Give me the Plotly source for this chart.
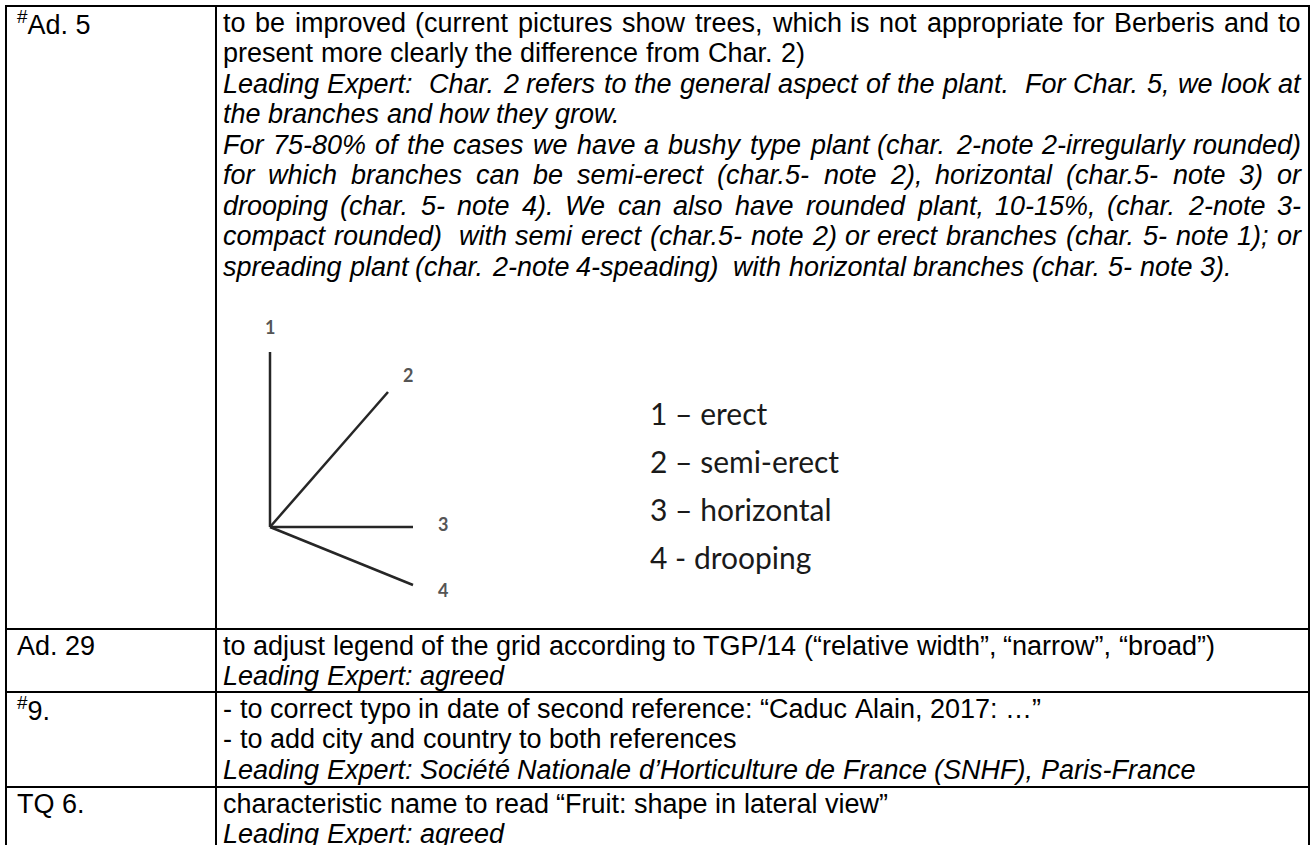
import plotly.graph_objects as go

W, H = 1314, 845

# ---------------- content ----------------
row_labels = ["<sup>#</sup>Ad. 5", "Ad. 29", "<sup>#</sup>9.", "TQ 6."]

ad5_lines = [
    "to be improved (current pictures show trees, which is not appropriate for Berberis and to",
    "present more clearly the difference from Char. 2)",
    "Leading Expert:  Char. 2 refers to the general aspect of the plant.  For Char. 5, we look at",
    "the branches and how they grow.",
    "For 75-80% of the cases we have a bushy type plant (char. 2-note 2-irregularly rounded)",
    "for which branches can be semi-erect (char.5- note 2), horizontal (char.5- note 3) or",
    "drooping (char. 5- note 4). We can also have rounded plant, 10-15%, (char. 2-note 3-",
    "compact rounded)  with semi erect (char.5- note 2) or erect branches (char. 5- note 1); or",
    "spreading plant (char. 2-note 4-speading)  with horizontal branches (char. 5- note 3).",
]
ad5_italic = [False, False, True, True, True, True, True, True, True]
ad5_justify = [True, False, True, False, True, True, True, True, False]

ad29_lines = [
    "to adjust legend of the grid according to TGP/14 (\u201crelative width\u201d, \u201cnarrow\u201d, \u201cbroad\u201d)",
    "Leading Expert: agreed",
]
ad29_italic = [False, True]

ref9_lines = [
    "- to correct typo in date of second reference: \u201cCaduc Alain, 2017: \u2026\u201d",
    "- to add city and country to both references",
    "Leading Expert: Soci\u00e9t\u00e9 Nationale d\u2019Horticulture de France (SNHF), Paris-France",
]
ref9_italic = [False, False, True]

tq6_lines = [
    "characteristic name to read \u201cFruit: shape in lateral view\u201d",
    "Leading Expert: agreed",
]
tq6_italic = [False, True]

branch_labels = ["1", "2", "3", "4"]
legend_items = ["1 \u2013 erect", "2 \u2013 semi-erect", "3 \u2013 horizontal", "4 - drooping"]

# ---------------- layout ----------------
X_LEFT, X_DIV, X_RIGHT = 6, 216, 1309
ROW_TOPS = [6, 629, 692, 787]
COL1_X = 17
TXT_L, TXT_R = 223, 1301
FS = 27
PITCH = 30.5
FIRST = 16.5
FONT = "Liberation Sans, Arial, sans-serif"
FIG_FONT = "Lato, Open Sans, sans-serif"

# Arial advance widths (1/1000 em), used to lay out justified lines word by word
ADV = {' ': 278, '.': 278, ',': 278, ':': 278, ';': 278, '(': 333, ')': 333,
       '-': 333, '%': 889, '/': 278, '\u201c': 333, '\u201d': 333, '\u2019': 222,
       '\u2026': 1000, '\u00e9': 556, '#': 556}
ADV.update({c: 556 for c in "0123456789"})
ADV.update(dict(zip("ABCDEFGHIJKLMNOPQRSTUVWXYZ",
                    [667, 667, 722, 722, 667, 611, 778, 722, 278, 500, 667, 556, 833,
                     722, 778, 667, 778, 722, 667, 611, 722, 667, 944, 667, 667, 611])))
ADV.update(dict(zip("abcdefghijklmnopqrstuvwxyz",
                    [556, 556, 500, 556, 556, 278, 556, 556, 222, 222, 500, 222, 833,
                     556, 556, 556, 556, 333, 500, 278, 556, 500, 722, 500, 500, 500])))


def width(s):
    return sum(ADV.get(c, 556) for c in s) * FS / 1000


def place_words(line, justify):
    tokens = line.split(" ")
    n_sp = len(tokens) - 1
    extra = 0
    if justify and n_sp:
        extra = (TXT_R - TXT_L - width(line)) / n_sp
    x = TXT_L
    out = []
    for t in tokens:
        if t:
            out.append((x, t))
        x += width(t) + width(" ") + extra
    return out


fig = go.Figure()

# table rules
tx, ty = [], []
for x in (X_LEFT, X_DIV, X_RIGHT):
    tx += [x, x, None]
    ty += [ROW_TOPS[0] - 1, H + 10, None]
for y in ROW_TOPS:
    tx += [X_LEFT - 1, X_RIGHT + 1, None]
    ty += [y, y, None]
fig.add_trace(go.Scatter(x=tx, y=ty, mode="lines", line=dict(color="black", width=2),
                         hoverinfo="skip", showlegend=False))

ann = []


def add_text(x, y, text, italic=False, size=FS, family=FONT, color="black",
             xanchor="left", weight="normal"):
    ann.append(dict(x=x, y=y, text=text, showarrow=False, xanchor=xanchor, yanchor="middle",
                    borderpad=0, borderwidth=0,
                    font=dict(family=family, size=size, color=color, weight=weight,
                              style="italic" if italic else "normal")))


rows = [
    (ad5_lines, ad5_italic, ad5_justify),
    (ad29_lines, ad29_italic, [False] * len(ad29_lines)),
    (ref9_lines, ref9_italic, [False] * len(ref9_lines)),
    (tq6_lines, tq6_italic, [False] * len(tq6_lines)),
]
for top, label, (lines, ital, just) in zip(ROW_TOPS, row_labels, rows):
    y0 = top + FIRST
    add_text(COL1_X, y0, label)
    for i, (line, it, j) in enumerate(zip(lines, ital, just)):
        for x, word in place_words(line, j):
            add_text(x, y0 + i * PITCH, word, italic=it)

# branch diagram (1 erect, 2 semi-erect, 3 horizontal, 4 drooping)
ox, oy = 270, 527
tips_x = [ox, 388, 413, 413]
tips_y = [352, 392, oy, 585]
bx, by = [], []
for x, y in zip(tips_x, tips_y):
    bx += [ox, x, None]
    by += [oy, y, None]
fig.add_trace(go.Scatter(x=bx, y=by, mode="lines", line=dict(color="#262626", width=2.5),
                         hoverinfo="skip", showlegend=False))
lab_x = [ox, 408, 443, 443]
lab_y = [327, 375, 524, 590]
for x, y, t in zip(lab_x, lab_y, branch_labels):
    add_text(x, y, t, size=18, family=FIG_FONT, color="#555555", xanchor="center",
             weight="bold")

leg_y = [413, 461, 509, 557]
for y, t in zip(leg_y, legend_items):
    add_text(650, y, t, size=30, family=FIG_FONT, color="#1a1a1a")

fig.update_layout(
    width=W, height=H, margin=dict(l=0, r=0, t=0, b=0),
    paper_bgcolor="white", plot_bgcolor="white",
    xaxis=dict(range=[0, W], visible=False, fixedrange=True),
    yaxis=dict(range=[H, 0], visible=False, fixedrange=True),
    annotations=ann,
)

fig.write_html("out.html", config={"displayModeBar": False},
               post_script="document.body.style.margin = '0px';")
